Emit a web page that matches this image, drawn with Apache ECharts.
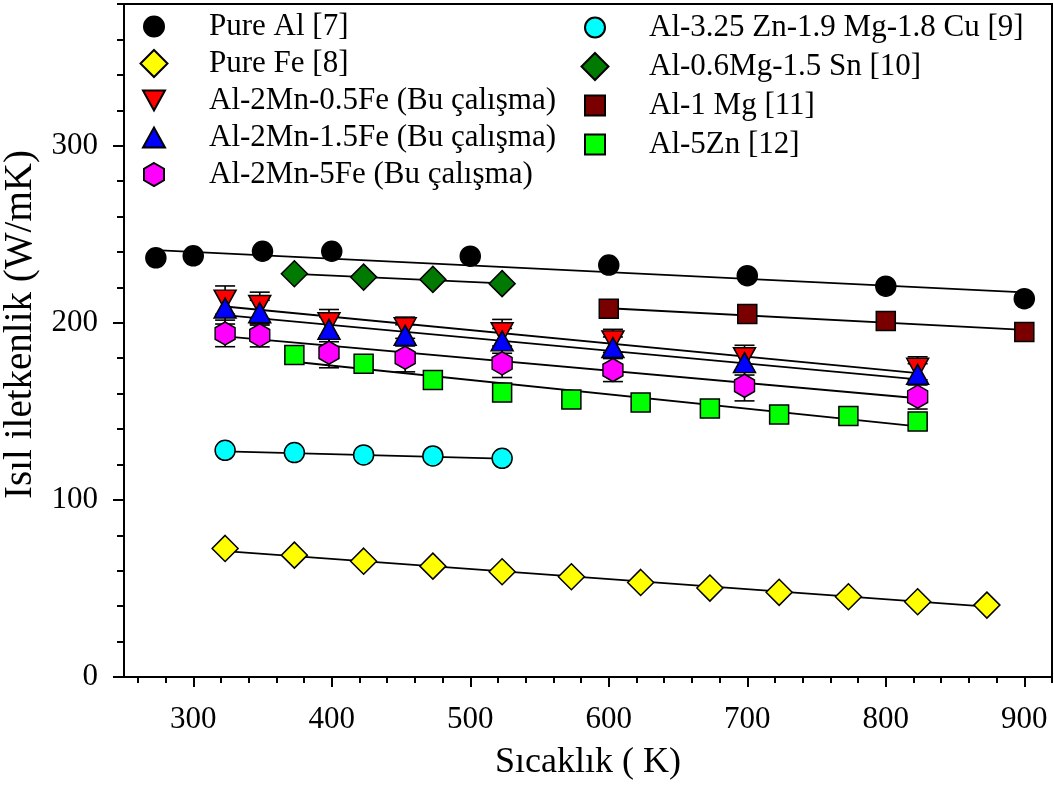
<!DOCTYPE html>
<html>
<head>
<meta charset="utf-8">
<script src="https://cdn.jsdelivr.net/npm/echarts@6/dist/echarts.min.js"></script>
<style>
html,body{margin:0;padding:0;background:#fff;}
#chart{width:1054px;height:785px;}
</style>
</head>
<body>
<div id="chart"></div>
<script>
// ---- data ----
const pureAlX = [273, 300, 350, 400, 500, 600, 700, 800, 900];
const pureAlY = [236.7, 237.8, 240.4, 240.4, 237.6, 232.6, 226.6, 220.7, 213.6];
const pureFeX = [323, 373, 423, 473, 523, 573, 623, 673, 723, 773, 823, 873];
const pureFeY = [72.6, 68.8, 65.4, 62.6, 59.4, 56.6, 53.4, 50.2, 47.8, 45.3, 42.5, 40.6];
const mnX = [323, 348, 398, 453, 523, 603, 698, 823];
const fe05Y = [212.8, 209.8, 200.0, 197.2, 194.4, 189.8, 180.3, 174.3];
const fe05Err = [8, 7.5, 7.5, 6, 7.5, 6.5, 7, 6.5];
const fe15Y = [208.3, 205.7, 196.3, 192.9, 189.8, 186.0, 177.5, 170.9];
const fe15Err = [9, 7, 7, 6, 7, 6, 7, 6];
const fe5Y = [194.0, 192.9, 183.1, 180.3, 177.1, 173.3, 164.4, 158.3];
const fe5Err = [7.5, 6.5, 8.5, 8, 8, 6.5, 8.5, 7];
const znMgCuX = [323, 373, 423, 473, 523];
const znMgCuY = [128.0, 126.7, 125.4, 124.8, 123.5];
const mgSnX = [373, 423, 473, 523];
const mgSnY = [227.7, 225.8, 224.5, 222.1];
const mg1X = [600, 700, 800, 900];
const mg1Y = [207.9, 204.9, 201.0, 194.8];
const zn5X = [373, 423, 473, 523, 573, 623, 673, 723, 773, 823];
const zn5Y = [181.8, 176.9, 167.7, 160.6, 156.7, 155.0, 151.6, 148.2, 147.4, 144.2];

// fitted trend lines (end points)
const pureAlFitX = [273, 900];  const pureAlFitY = [241.0, 217.2];
const pureFeFitX = [323, 873];  const pureFeFitY = [71.1, 39.7];
const fe05FitX = [323, 823];    const fe05FitY = [209.2, 171.6];
const fe15FitX = [323, 823];    const fe15FitY = [204.3, 168.1];
const fe5FitX = [323, 823];     const fe5FitY = [192.3, 157.4];
const znMgCuFitX = [323, 523];  const znMgCuFitY = [127.4, 123.3];
const mgSnFitX = [373, 523];    const mgSnFitY = [227.6, 222.2];
const mg1FitX = [600, 900];     const mg1FitY = [208.2, 196.0];
const zn5FitX = [373, 823];     const zn5FitY = [178.0, 141.5];

// axis ticks / labels
const xMajorTicks = [300, 400, 500, 600, 700, 800, 900];
const xMinorTicks = [260, 280, 320, 340, 360, 380, 420, 440, 460, 480, 520, 540, 560, 580,
                     620, 640, 660, 680, 720, 740, 760, 780, 820, 840, 860, 880, 920];
const yMajorTicks = [0, 100, 200, 300];
const yMinorTicks = [20, 40, 60, 80, 120, 140, 160, 180, 220, 240, 260, 280, 320, 340, 360, 380];

const names = {
  al: 'Pure Al [7]', fe: 'Pure Fe [8]',
  f05: 'Al-2Mn-0.5Fe (Bu çalışma)', f15: 'Al-2Mn-1.5Fe (Bu çalışma)', f5: 'Al-2Mn-5Fe (Bu çalışma)',
  zmc: 'Al-3.25 Zn-1.9 Mg-1.8 Cu [9]', ms: 'Al-0.6Mg-1.5 Sn [10]', m1: 'Al-1 Mg [11]', z5: 'Al-5Zn [12]'
};

const FONT = 'Liberation Serif, Times New Roman, serif';
const HEX = 'path://M0,-10 L8.66,-5 L8.66,5 L0,10 L-8.66,5 L-8.66,-5 Z';
const DOWN_TRI = 'path://M-10,-9 L10,-9 L0,9 Z';

// legend icons: shapes placed inside a fixed 27x27 box so their sizes match the markers
const BOX = 'M-13.5,-13.5 M13.5,13.5 ';
const LEG_CIRCLE = 'path://' + BOX + 'M10,0 A10,10 0 1,1 -10,0 A10,10 0 1,1 10,0 Z';
const LEG_RECT = 'path://' + BOX + 'M-10,-10 L10,-10 L10,10 L-10,10 Z';
const LEG_DOWN = 'path://' + BOX + 'M-11,-10 L11,-10 L0,10 Z';
const LEG_UP = 'path://' + BOX + 'M-11,10 L11,10 L0,-10 Z';
const LEG_HEX = 'path://' + BOX + 'M0,-11.5 L10,-5.75 L10,5.75 L0,11.5 L-10,5.75 L-10,-5.75 Z';

function zip(xs, ys) { return xs.map((x, i) => [x, ys[i]]); }

function scatter(name, xs, ys, symbol, size, color) {
  return {
    type: 'scatter', name, data: zip(xs, ys), symbol, symbolSize: size,
    itemStyle: { color, borderColor: '#000', borderWidth: 1.5, opacity: 1 },
    z: 4, silent: true
  };
}
function fit(id, xs, ys) {
  return {
    type: 'line', name: 'fit-' + id, data: zip(xs, ys), symbol: 'none', showSymbol: false,
    lineStyle: { color: '#000', width: 1.8 }, z: 2, silent: true
  };
}
function errBars(id, xs, ys, errs) {
  return {
    type: 'custom', name: 'err-' + id, silent: true, z: 3,
    data: xs.map((x, i) => [x, ys[i] - errs[i], ys[i] + errs[i]]),
    encode: { x: 0, y: [1, 2] },
    renderItem(params, api) {
      const x = api.value(0);
      const lo = api.coord([x, api.value(1)]);
      const hi = api.coord([x, api.value(2)]);
      const hw = 10;
      const st = { stroke: '#000', lineWidth: 1.6 };
      return { type: 'group', children: [
        { type: 'line', shape: { x1: lo[0], y1: lo[1], x2: hi[0], y2: hi[1] }, style: st },
        { type: 'line', shape: { x1: lo[0] - hw, y1: lo[1], x2: lo[0] + hw, y2: lo[1] }, style: st },
        { type: 'line', shape: { x1: hi[0] - hw, y1: hi[1], x2: hi[0] + hw, y2: hi[1] }, style: st }
      ]};
    }
  };
}

const legendText = { fontFamily: FONT, fontSize: 31, color: '#000', lineHeight: 31 };

const option = {
  animation: false,
  backgroundColor: '#fff',
  grid: { left: 124, right: 2, top: 4, bottom: 108, show: true, borderColor: '#000', borderWidth: 2,
          containLabel: false, outerBoundsMode: 'none' },
  legend: [
    {
      data: [
        { name: names.al, icon: LEG_CIRCLE },
        { name: names.fe, icon: 'diamond' },
        { name: names.f05, icon: LEG_DOWN },
        { name: names.f15, icon: LEG_UP },
        { name: names.f5, icon: LEG_HEX }
      ],
      orient: 'vertical', left: 139.5, top: 11, padding: 0, itemGap: 6, itemWidth: 27, itemHeight: 27,
      selectedMode: false, textStyle: Object.assign({ padding: [0, 0, 0, 36.5] }, legendText)
    },
    {
      data: [
        { name: names.zmc, icon: LEG_CIRCLE },
        { name: names.ms, icon: 'diamond' },
        { name: names.m1, icon: LEG_RECT },
        { name: names.z5, icon: LEG_RECT }
      ],
      orient: 'vertical', left: 580.5, top: 12, padding: 0, itemGap: 8, itemWidth: 27, itemHeight: 27,
      selectedMode: false, textStyle: Object.assign({ padding: [0, 0, 0, 35.5] }, legendText)
    }
  ],
  xAxis: [
    {
      type: 'value', min: 250, max: 920, position: 'bottom',
      name: 'Sıcaklık ( K)', nameLocation: 'middle', nameGap: 68,
      nameTextStyle: { fontFamily: FONT, fontSize: 36, color: '#000' },
      axisLine: { show: true, lineStyle: { color: '#000', width: 2 } },
      axisTick: { show: true, inside: false, length: 10, customValues: xMajorTicks, lineStyle: { color: '#000', width: 2 } },
      axisLabel: { show: true, customValues: xMajorTicks, margin: 27, fontFamily: FONT, fontSize: 31, color: '#000' },
      splitLine: { show: false }
    },
    {
      type: 'value', min: 250, max: 920, position: 'bottom',
      axisLine: { show: false },
      axisTick: { show: true, inside: false, length: 6, customValues: xMinorTicks, lineStyle: { color: '#000', width: 2 } },
      axisLabel: { show: false },
      splitLine: { show: false }
    }
  ],
  yAxis: [
    {
      type: 'value', min: 0, max: 380, position: 'left',
      name: 'Isıl iletkenlik (W/mK)', nameLocation: 'middle', nameGap: 77, nameRotate: 90,
      nameTextStyle: { fontFamily: FONT, fontSize: 39, color: '#000', padding: [0, 0, 0, 32] },
      axisLine: { show: true, lineStyle: { color: '#000', width: 2 } },
      axisTick: { show: true, inside: false, length: 11, customValues: yMajorTicks, lineStyle: { color: '#000', width: 2 } },
      axisLabel: { show: true, customValues: yMajorTicks, margin: 26, fontFamily: FONT, fontSize: 31, color: '#000' },
      splitLine: { show: false }
    },
    {
      type: 'value', min: 0, max: 380, position: 'left',
      axisLine: { show: false },
      axisTick: { show: true, inside: false, length: 7, customValues: yMinorTicks, lineStyle: { color: '#000', width: 2 } },
      axisLabel: { show: false },
      splitLine: { show: false }
    }
  ],
  series: [
    fit('al', pureAlFitX, pureAlFitY),
    fit('fe', pureFeFitX, pureFeFitY),
    fit('f05', fe05FitX, fe05FitY),
    fit('f15', fe15FitX, fe15FitY),
    fit('f5', fe5FitX, fe5FitY),
    fit('zmc', znMgCuFitX, znMgCuFitY),
    fit('ms', mgSnFitX, mgSnFitY),
    fit('m1', mg1FitX, mg1FitY),
    fit('z5', zn5FitX, zn5FitY),
    errBars('f05', mnX, fe05Y, fe05Err),
    errBars('f15', mnX, fe15Y, fe15Err),
    errBars('f5', mnX, fe5Y, fe5Err),
    scatter(names.al, pureAlX, pureAlY, 'circle', 20, '#000000'),
    scatter(names.fe, pureFeX, pureFeY, 'diamond', 26, '#ffff00'),
    scatter(names.zmc, znMgCuX, znMgCuY, 'circle', 20, '#00ffff'),
    scatter(names.ms, mgSnX, mgSnY, 'diamond', 26, '#007a00'),
    scatter(names.m1, mg1X, mg1Y, 'rect', 19, '#7a0000'),
    scatter(names.z5, zn5X, zn5Y, 'rect', 19, '#00ff00'),
    scatter(names.f05, mnX, fe05Y, DOWN_TRI, [22, 20], '#ff0000'),
    scatter(names.f15, mnX, fe15Y, 'triangle', [22, 20], '#0000ff'),
    scatter(names.f5, mnX, fe5Y, HEX, [20, 23], '#ff00ff')
  ]
};

const chart = echarts.init(document.getElementById('chart'), null, { renderer: 'canvas' });
chart.setOption(option);
</script>
</body>
</html>
